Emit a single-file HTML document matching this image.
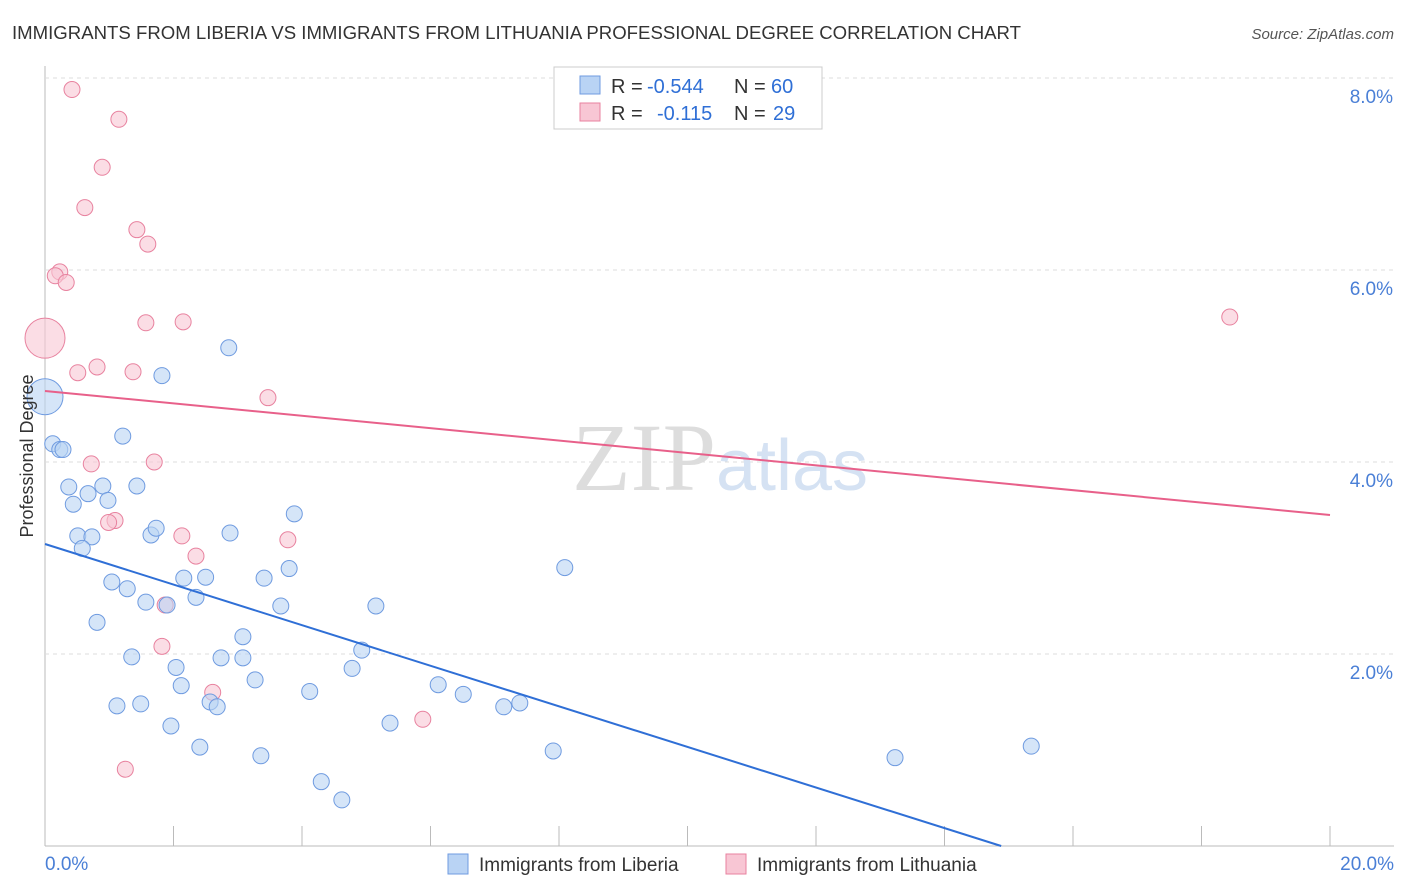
<!DOCTYPE html>
<html><head><meta charset="utf-8"><style>
body{margin:0;background:#fff;font-family:"Liberation Sans",sans-serif}
svg{display:block}
</style></head><body>
<svg id="chart" width="1406" height="892" xmlns="http://www.w3.org/2000/svg">
<text x="12" y="39" font-size="18.6" fill="#333">IMMIGRANTS FROM LIBERIA VS IMMIGRANTS FROM LITHUANIA PROFESSIONAL DEGREE CORRELATION CHART</text>
<text x="1394" y="39" font-size="15" fill="#555" font-style="italic" text-anchor="end">Source: ZipAtlas.com</text>
<g id="grid"></g>
<text x="720" y="490" font-size="96" text-anchor="middle" fill="#ddd" font-family="Liberation Serif, serif">ZIP<tspan fill="#d5e2f3" font-family="Liberation Sans, sans-serif" font-size="72">atlas</tspan></text>
<g id="marks"></g>
<text transform="translate(33,456) rotate(-90)" font-size="18" fill="#333" text-anchor="middle">Professional Degree</text>
<g font-size="20">
<rect x="554" y="67" width="268" height="62" fill="#fff" stroke="#ccc"/>
<rect x="580" y="76" width="20" height="18" fill="#b9d3f4" stroke="#6f9be0"/>
<rect x="580" y="103" width="20" height="18" fill="#f8c6d4" stroke="#e8829f"/>
<text x="611" y="93" fill="#333">R =</text>
<text x="647" y="93" fill="#2f6fd6">-0.544</text>
<text x="734" y="93" fill="#333">N =</text>
<text x="771" y="93" fill="#2f6fd6">60</text>
<text x="611" y="120" fill="#333">R =</text>
<text x="657" y="120" fill="#2f6fd6">-0.115</text>
<text x="734" y="120" fill="#333">N =</text>
<text x="773" y="120" fill="#2f6fd6">29</text>
</g>
<g>
<rect x="448" y="854" width="20" height="20" fill="#b9d3f4" stroke="#6f9be0"/>
<text x="479" y="871" font-size="19" fill="#333">Immigrants from Liberia</text>
<rect x="726" y="854" width="20" height="20" fill="#f8c6d4" stroke="#e8829f"/>
<text x="757" y="871" font-size="19" fill="#333">Immigrants from Lithuania</text>
</g>
</svg>
<script>
const xTicks=[0,2,4,6,8,10,12,14,16,18,20];
const yTicks=[2,4,6,8];
const yTickLabels=["2.0%","4.0%","6.0%","8.0%"];
const xLabels=["0.0%","20.0%"];
const liberiaX=[2.86,1.82,1.21,0.12,0.23,0.28,0.37,0.67,0.90,1.43,0.44,0.98,3.88,0.51,0.73,1.65,1.73,2.88,0.58,1.04,1.28,2.16,2.50,3.41,3.80,8.09,1.57,1.90,2.35,3.67,5.15,0.81,3.08,4.93,1.35,2.74,3.08,2.04,4.78,3.27,2.12,4.12,6.12,6.51,1.12,1.49,2.57,2.68,7.14,7.39,1.96,5.37,2.41,3.36,7.91,13.23,15.35,4.30,4.62,0.0];
const liberiaY=[5.19,4.90,4.27,4.19,4.13,4.13,3.74,3.67,3.75,3.75,3.56,3.60,3.46,3.23,3.22,3.24,3.31,3.26,3.10,2.75,2.68,2.79,2.80,2.79,2.89,2.90,2.54,2.51,2.59,2.50,2.50,2.33,2.18,2.04,1.97,1.96,1.96,1.86,1.85,1.73,1.67,1.61,1.68,1.58,1.46,1.48,1.50,1.45,1.45,1.49,1.25,1.28,1.03,0.94,0.99,0.92,1.04,0.67,0.48,4.68];
const lithX=[0.42,1.15,0.89,0.62,1.43,1.60,0.23,0.16,0.33,1.57,2.15,0.0,0.81,0.51,1.37,3.47,0.72,1.70,1.09,0.99,2.13,3.78,2.35,1.87,1.82,2.61,5.88,1.25,18.44];
const lithY=[7.88,7.57,7.07,6.65,6.42,6.27,5.98,5.94,5.87,5.45,5.46,5.29,4.99,4.93,4.94,4.67,3.98,4.00,3.39,3.37,3.23,3.19,3.02,2.51,2.08,1.60,1.32,0.80,5.51];
const liberiaSize=[8,8,8,8,8,8,8,8,8,8,8,8,8,8,8,8,8,8,8,8,8,8,8,8,8,8,8,8,8,8,8,8,8,8,8,8,8,8,8,8,8,8,8,8,8,8,8,8,8,8,8,8,8,8,8,8,8,8,8,18];
const lithSize=[8,8,8,8,8,8,8,8,8,8,8,20,8,8,8,8,8,8,8,8,8,8,8,8,8,8,8,8,8];
const liberiaTrend=[3.146,-0.2114];
const lithTrend=[4.74,-0.0646];
const NS="http://www.w3.org/2000/svg";
const X=v=>45+v/20*1285, Y=v=>846-v*96;
const svg=document.getElementById('chart'),grid=document.getElementById('grid'),marks=document.getElementById('marks');
function mk(t,a,p){const e=document.createElementNS(NS,t);for(const k in a)e.setAttribute(k,a[k]);(p||svg).appendChild(e);return e;}
const ax=mk('line',{x1:45,y1:66,x2:45,y2:846,stroke:'#bbb'},grid);


const bx=mk('line',{x1:45,y1:846,x2:1394,y2:846,stroke:'#bbb'},grid);


yTicks.forEach((t,i)=>{
 const g=mk('line',{x1:45,x2:1394,y1:Y(t),y2:Y(t),stroke:'#ddd','stroke-dasharray':'4,4'},grid);
 
 
 const l=mk('text',{x:1393,y:Y(t)+25,'font-size':19,fill:'#4a7fd6','text-anchor':'end'});
 l.textContent=yTickLabels[i];
 
 
});
xTicks.forEach(t=>{
 const k=mk('line',{x1:X(t),x2:X(t),y1:826,y2:846,stroke:'#bbb'},grid);
 
 
});
[[0,xLabels[0],'start',45],[20,xLabels[1],'end',1394]].forEach(d=>{
 const l=mk('text',{x:d[3],y:870,'font-size':19,fill:'#4a7fd6','text-anchor':d[2]});
 l.textContent=d[1];
 
 
});
function pts(xs,ys,ss,fill,stroke,name){xs.forEach((x,i)=>{
 const c=mk('circle',{cx:X(x),cy:Y(ys[i]),r:ss[i],fill:fill,'fill-opacity':0.6,stroke:stroke,'stroke-width':1},marks);
 
 
});}
pts(lithX,lithY,lithSize,'#f8c6d4','#e8829f','lithuania-point');
pts(liberiaX,liberiaY,liberiaSize,'#b9d3f4','#6f9be0','liberia-point');
const x1b=-liberiaTrend[0]/liberiaTrend[1];
const lb=mk('line',{x1:X(0),y1:Y(liberiaTrend[0]),x2:X(Math.min(20,x1b)),y2:Y(liberiaTrend[0]+liberiaTrend[1]*Math.min(20,x1b)),stroke:'#2f6fd6','stroke-width':2},marks);


const lp=mk('line',{x1:X(0),y1:Y(lithTrend[0]),x2:X(20),y2:Y(lithTrend[0]+lithTrend[1]*20),stroke:'#e8608a','stroke-width':2},marks);


</script>
</body></html>
